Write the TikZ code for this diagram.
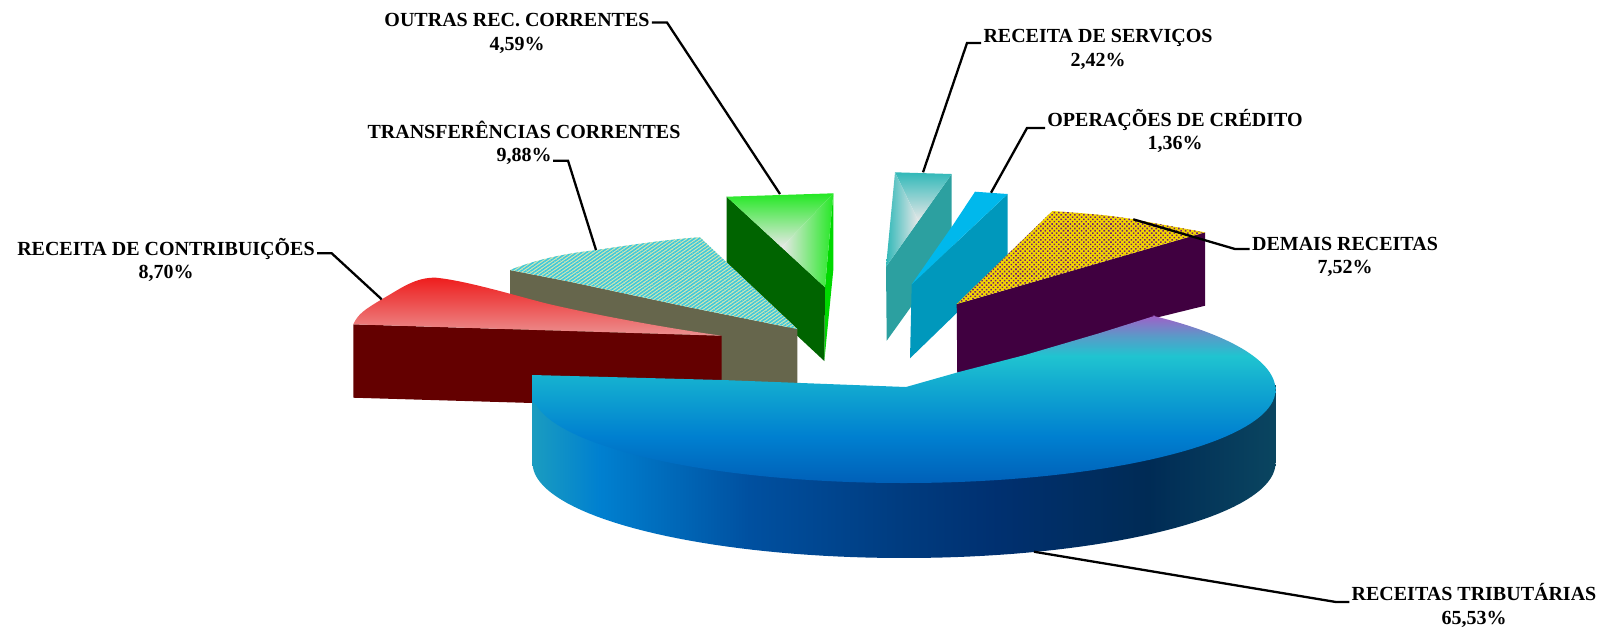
\documentclass[tikz,border=0pt]{standalone}
\usepackage{fontspec}
\setmainfont{Liberation Serif}
\usetikzlibrary{patterns.meta}
\definecolor{ptA}{HTML}{A060C8}\definecolor{ptB}{HTML}{5A9AC8}\definecolor{ptC}{HTML}{20C4D0}
\definecolor{ptD}{HTML}{14AED0}\definecolor{ptE}{HTML}{0080D0}\definecolor{ptF}{HTML}{0060B8}
\definecolor{psA}{HTML}{1A9CC0}\definecolor{psB}{HTML}{0080D0}\definecolor{psC}{HTML}{0050A0}
\definecolor{psD}{HTML}{003C80}\definecolor{psE}{HTML}{003070}\definecolor{psF}{HTML}{002B55}\definecolor{psG}{HTML}{0A4560}
\definecolor{gBright}{HTML}{22E822}\definecolor{gMid}{HTML}{00D800}\definecolor{gDark}{HTML}{006400}
\definecolor{coreGray}{HTML}{E8E8E8}
\definecolor{tealEdge}{HTML}{30B8B8}\definecolor{tealSide}{HTML}{2CA0A0}
\definecolor{credTop}{HTML}{00B8EC}\definecolor{credSide}{HTML}{0098BC}
\definecolor{purp}{HTML}{400040}\definecolor{goldBase}{HTML}{F4D800}\definecolor{purpDot}{HTML}{702070}
\definecolor{olive}{HTML}{66664C}\definecolor{cyanH}{HTML}{40C8DC}\definecolor{paleH}{HTML}{D8E8B0}
\definecolor{redDark}{HTML}{640000}\definecolor{redTop}{HTML}{EE1C1C}\definecolor{redLow}{HTML}{EC9090}
\pgfdeclareverticalshading{pietop}{100bp}{color(0bp)=(ptF); color(25bp)=(ptF); color(39bp)=(ptE); color(55.7bp)=(ptD); color(63bp)=(ptC); color(69bp)=(ptB); color(75bp)=(ptA); color(100bp)=(ptA)}
\pgfdeclarehorizontalshading{pieside}{100bp}{color(0bp)=(psA); color(25bp)=(psA); color(29.5bp)=(psB); color(39.6bp)=(psC); color(49.6bp)=(psD); color(56.3bp)=(psE); color(66.4bp)=(psF); color(75bp)=(psG); color(100bp)=(psG)}
\tikzset{
  lbl/.style={font=\bfseries\fontsize{10}{11.75}\selectfont,align=center,inner sep=0pt,text=black},
  leader/.style={draw=black,line width=1.15pt,line join=miter},
  stripes/.style={preaction={fill=paleH},pattern={Lines[angle=35,distance=1.4pt,line width=.8pt]},pattern color=cyanH},
  dotted gold/.style={preaction={fill=goldBase},pattern={Dots[angle=45,distance=1.6pt,radius=.55pt]},pattern color=purpDot}
}
\begin{document}
\begin{tikzpicture}[x=0.5pt,y=-0.5pt]
\useasboundingbox (0,0) rectangle (1604,629);
% green slice
\fill[gMid] (833.3,193.3) -- (825,287.3) -- (824.3,361) -- (833.3,270) -- cycle;
\fill[gDark] (726.7,196.7) -- (825,287.3) -- (824.3,361) -- (726.7,270) -- cycle;
\begin{scope}\clip (726.7,196.7) -- (833.3,193.3) -- (781.7,247.4) -- cycle;
\shade[top color=gBright,bottom color=coreGray] (726,193) rectangle (834,247.4);\end{scope}
\begin{scope}\clip (833.3,193.3) -- (825,287.3) -- (781.7,247.4) -- cycle;
\shade[left color=coreGray,right color=gBright] (781.7,193) rectangle (834,288);\end{scope}
% olive / hatched slice
\fill[olive] (510,270) -- (570,281.7) -- (686.7,306.7) -- (797.3,329) -- (797.3,383.3) -- (510,383.3) -- cycle;
\path[stripes] (510,270) .. controls (540,258) and (570,253) .. (596.7,250) .. controls (630,245) and (670,239) .. (700,237.3) -- (797.3,329) -- (686.7,306.7) -- (570,281.7) -- cycle;
% red slice
\fill[redDark] (353.3,324.3) -- (721.7,335.7) -- (721.7,405) -- (533,403) -- (353.3,397.7) -- cycle;
\shade[top color=redTop,bottom color=redLow] (353.3,324.3) .. controls (358,314) and (364,310) .. (381.7,299.3) .. controls (400,289) and (415,277) .. (436,277.7) .. controls (470,281) and (530,300) .. (553,305) .. controls (610,318) and (680,330) .. (721.7,335.7) -- cycle;
% teal slice
\fill[tealSide] (951.7,174) -- (886,266.7) -- (886.7,340.7) -- (951.7,250) -- cycle;
\begin{scope}\clip (895,172.3) -- (951.7,174) -- (918.4,221) -- cycle;
\shade[top color=tealEdge,bottom color=coreGray] (894,172) rectangle (952,221);\end{scope}
\begin{scope}\clip (895,172.3) -- (886,266.7) -- (918.4,221) -- cycle;
\shade[left color=tealEdge,right color=coreGray] (886,172) rectangle (918.4,267);\end{scope}
% credit slice
\fill[credSide] (1007.7,194) -- (911.7,284.3) -- (910,358.3) -- (956.7,313) -- (1007.7,256) -- cycle;
\fill[credTop] (975,191.7) -- (1007.7,194) -- (911.7,284.3) -- (953,225) -- cycle;
% purple slice
\fill[purp] (956.7,304) -- (1205,232.3) -- (1205,305.7) -- (1155,318) -- (1100,345) -- (957.3,380) -- cycle;
\path[dotted gold] (956.7,304) -- (1052.3,211) .. controls (1080,213) and (1110,215) .. (1133.3,219.3) -- (1205,232.3) -- cycle;
% main slice
\path[shade,shading=pieside] (532.5,395) -- (532.5,463)
  -- plot[domain=180:0,samples=80] ({904+371.5*cos(\x)},{463+95*sin(\x)})
  -- (1275.5,385) -- (1100,440) -- (700,440) -- cycle;
\path[shade,shading=pietop] (532.5,375) -- (722.5,380) -- (906,387) -- (960,371.7) -- (1025,355) -- (1100,333) -- (1155,315.7)
  -- plot[domain=48:0,samples=30] ({904+371.5*cos(\x)},{390-100*sin(\x)})
  -- plot[domain=0:-90,samples=40] ({904+371.5*cos(\x)},{390-93*sin(\x)})
  -- plot[domain=-90:-172,samples=40] ({904+371.5*cos(\x)},{392-91*sin(\x)})
  -- (532.5,401.7) -- cycle;
% labels
\node[lbl] (outras) at (517,33.5) {OUTRAS REC. CORRENTES\\4,59\%};
\node[lbl] (servicos) at (1098,49.5) {RECEITA DE SERVIÇOS\\2,42\%};
\node[lbl] (credito) at (1175,131) {OPERAÇÕES DE CRÉDITO\\1,36\%};
\node[lbl] (demais) at (1345,257) {DEMAIS RECEITAS\\7,52\%};
\node[lbl] (tribut) at (1474,605.5) {RECEITAS TRIBUTÁRIAS\\65,53\%};
\node[lbl] (contrib) at (166,260) {RECEITA DE CONTRIBUIÇÕES\\8,70\%};
\node[lbl] (transf) at (524,143) {TRANSFERÊNCIAS CORRENTES\\9,88\%};
% leader ends
\coordinate (kOutras) at (667,22.5); \coordinate (eOutras) at (780,194);
\coordinate (kServ) at (967,43); \coordinate (eServ) at (923,172.3);
\coordinate (kCred) at (1027,128); \coordinate (eCred) at (991,192.7);
\coordinate (kDem) at (1235,249); \coordinate (eDem) at (1133.3,219.3);
\coordinate (kTrib) at (1336,602); \coordinate (eTrib) at (1034,551.7);
\coordinate (kCon) at (331.7,253.3); \coordinate (eCon) at (381.7,299.3);
\coordinate (sTra) at (553,160.7); \coordinate (kTra) at (568,160.7); \coordinate (eTra) at (596,250);
\draw[leader] (outras.east |- kOutras) ++(2,0) -- (kOutras) -- (eOutras);
\draw[leader] (servicos.west |- kServ) ++(-2,0) -- (kServ) -- (eServ);
\draw[leader] (credito.west |- kCred) ++(-2,0) -- (kCred) -- (eCred);
\draw[leader] (demais.west |- kDem) ++(-2,0) -- (kDem) -- (eDem);
\draw[leader] (tribut.west |- kTrib) ++(-2,0) -- (kTrib) -- (eTrib);
\draw[leader] (contrib.east |- kCon) ++(2,0) -- (kCon) -- (eCon);
\draw[leader] (sTra) -- (kTra) -- (eTra);
\end{tikzpicture}
\end{document}
